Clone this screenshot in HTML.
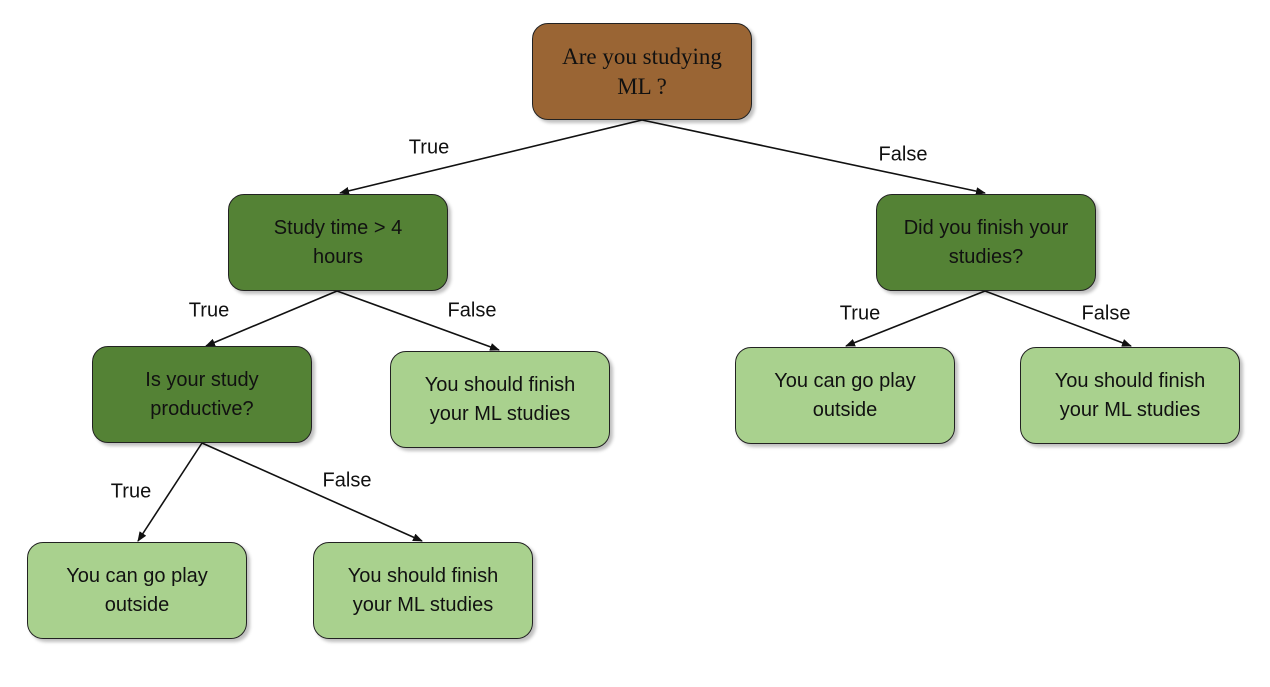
<!DOCTYPE html>
<html><head><style>
body{margin:0;width:1270px;height:687px;background:#fff;position:relative;overflow:hidden;font-family:"Liberation Sans",sans-serif;}
.b{position:absolute;width:220px;height:97px;border:1.5px solid #222;border-radius:16px;box-sizing:border-box;display:flex;align-items:center;justify-content:center;text-align:center;font-size:20px;line-height:29px;color:#111;box-shadow:3px 3px 3px rgba(0,0,0,0.25);}
.d{background:#548235}.l{background:#A9D18E}
.r{background:#9A6534;font-family:"Liberation Serif",serif;font-size:23px;line-height:30px}
.t{position:absolute;font-size:20px;color:#111;transform:translate(-50%,-50%)}
</style></head><body>
<svg width="1270" height="687" style="position:absolute;left:0;top:0">
<defs><marker id="a" markerWidth="10" markerHeight="8" refX="9" refY="4" orient="auto" markerUnits="userSpaceOnUse"><path d="M0,0L10,4L0,8z" fill="#111"/></marker></defs>
<g stroke="#111" stroke-width="1.6" marker-end="url(#a)">
<line x1="642" y1="120" x2="340" y2="193"/>
<line x1="642" y1="120" x2="985" y2="193"/>
<line x1="337" y1="291" x2="206" y2="346"/>
<line x1="337" y1="291" x2="499" y2="350"/>
<line x1="985" y1="291" x2="846" y2="346"/>
<line x1="985" y1="291" x2="1131" y2="346"/>
<line x1="202" y1="443" x2="138" y2="541"/>
<line x1="202" y1="443" x2="422" y2="541"/>
</g></svg>
<div class="b r" style="left:532px;top:23px">Are you studying<br>ML ?</div>
<div class="b d" style="left:228px;top:194px">Study time &gt; 4<br>hours</div>
<div class="b d" style="left:876px;top:194px">Did you finish your<br>studies?</div>
<div class="b d" style="left:92px;top:346px">Is your study<br>productive?</div>
<div class="b l" style="left:390px;top:351px">You should finish<br>your ML studies</div>
<div class="b l" style="left:735px;top:347px">You can go play<br>outside</div>
<div class="b l" style="left:1020px;top:347px">You should finish<br>your ML studies</div>
<div class="b l" style="left:27px;top:542px">You can go play<br>outside</div>
<div class="b l" style="left:313px;top:542px">You should finish<br>your ML studies</div>
<div class="t" style="left:429px;top:148px">True</div>
<div class="t" style="left:903px;top:155px">False</div>
<div class="t" style="left:209px;top:311px">True</div>
<div class="t" style="left:472px;top:311px">False</div>
<div class="t" style="left:860px;top:314px">True</div>
<div class="t" style="left:1106px;top:314px">False</div>
<div class="t" style="left:131px;top:492px">True</div>
<div class="t" style="left:347px;top:481px">False</div>
</body></html>
